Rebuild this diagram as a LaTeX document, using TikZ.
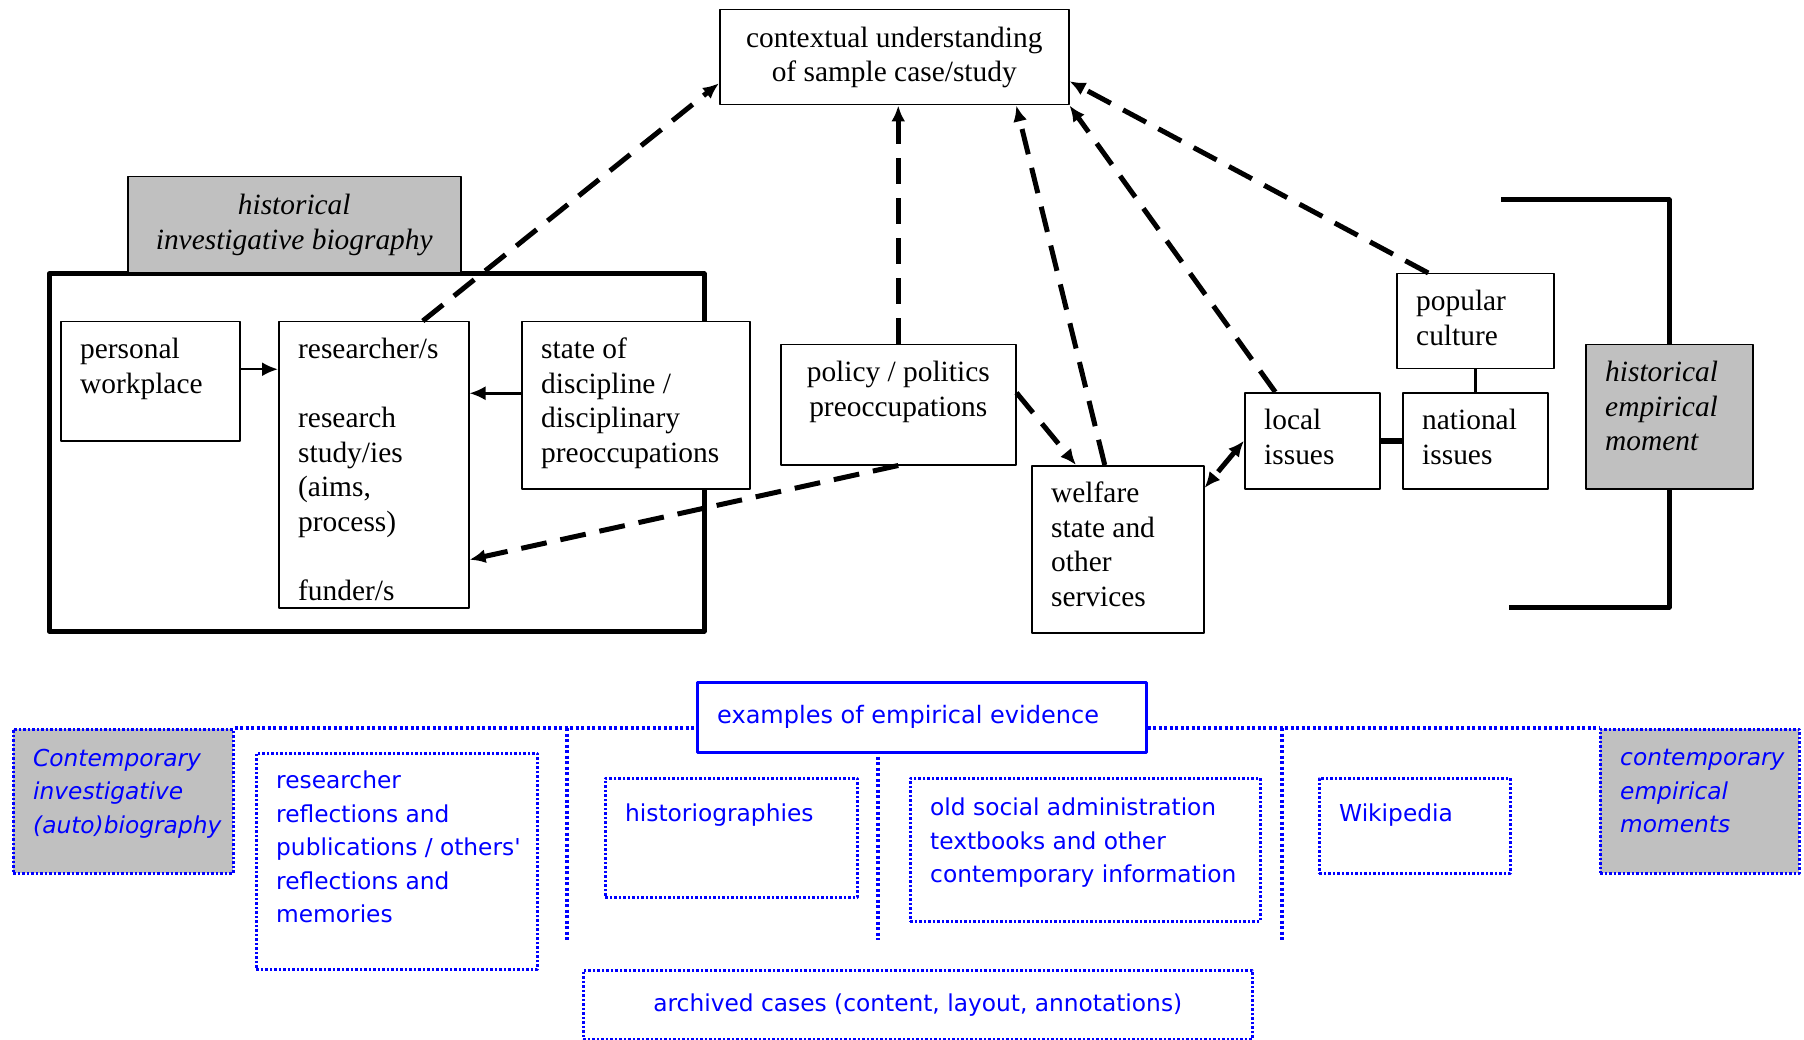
\documentclass[tikz,border=0pt]{standalone}
\usepackage{fontspec}
\setmainfont{Liberation Serif}
\newfontfamily\comicfont{DejaVu Sans}
\usetikzlibrary{arrows.meta}
\usetikzlibrary{positioning}

\newcommand{\tms}{\fontsize{29.4}{34.5}\selectfont}
\newcommand{\cmc}{\comicfont\fontsize{23.3}{33.5}\selectfont}
\definecolor{boxgrey}{RGB}{192,192,192}
\definecolor{evblue}{RGB}{0,0,255}

\tikzset{
  box/.style={draw, line width=1.5pt, fill=white, anchor=north west, inner sep=0pt},
  greybox/.style={box, fill=boxgrey},
  txt/.style={anchor=north west, align=left, inner xsep=20pt, inner ysep=17pt, font=\tms, execute at begin node=\strut},
  dasharrow/.style={->, line width=5pt, dash pattern=on 26pt off 14pt},
  evbox/.style={draw=evblue, line width=2.5pt, fill=white, anchor=north west, inner sep=0pt},
  dotbox/.style={evbox, dash pattern=on 2.5pt off 2pt},
  dotline/.style={draw=evblue, line width=3.5pt, dash pattern=on 3pt off 2.5pt},
  ctxt/.style={anchor=north west, align=left, inner xsep=21pt, inner ysep=21pt, font=\cmc, text=evblue, execute at begin node=\strut},
}

\begin{document}
\begin{tikzpicture}[line join=round,x=1pt,y=-1pt,>={Latex[length=16pt,width=14pt]}]
\useasboundingbox (0,0) rectangle (1804,1040);
% historical side
\draw[line width=5pt] (49,274) rectangle (704,631);
\node[greybox, minimum width=333pt, minimum height=96pt, align=center, font=\tms\itshape] (hib) at (127,176) {historical\\investigative biography};
\node[box, minimum width=349pt, minimum height=95pt, align=center, font=\tms] (cu) at (719,9) {contextual understanding\\of sample case/study};
\node[box, minimum width=179pt, minimum height=119pt, label={[txt]north west:{personal\\workplace}}] (pw) at (60,321) {};
\node[box, minimum width=190pt, minimum height=286pt, label={[txt]north west:{researcher/s\\[34.5pt]research\\study/ies\\(aims,\\process)\\[34.5pt]funder/s}}] (rs) at (278,321) {};
\node[box, minimum width=228pt, minimum height=167pt, label={[txt]north west:{state of\\discipline /\\disciplinary\\preoccupations}}] (sd) at (521,321) {};
\node[box, minimum width=235pt, minimum height=120pt, label={[txt, anchor=north, align=center]north:{policy / politics\\preoccupations}}] (pp) at (780,344) {};
\node[box, minimum width=172pt, minimum height=167pt, label={[txt]north west:{welfare\\state and\\other\\services}}] (ws) at (1031,465) {};
\node[box, minimum width=135pt, minimum height=96pt, label={[txt]north west:{local\\issues}}] (li) at (1244,392) {};
\node[box, minimum width=145pt, minimum height=96pt, label={[txt]north west:{national\\issues}}] (ni) at (1402,392) {};
\node[box, minimum width=157pt, minimum height=95pt, label={[txt]north west:{popular\\culture}}] (pc) at (1396,273) {};
\node[greybox, minimum width=167pt, minimum height=144pt, label={[txt, font=\tms\itshape]north west:{historical\\empirical\\moment}}] (hem) at (1585,344) {};
\coordinate (brt) at (1501,200);
\coordinate (brb) at (1509,607);
\draw[line width=5pt] (brt) -| (hem.north);
\draw[line width=5pt] (hem.south) |- (brb);
\draw[line width=6pt] (li.east) -- (ni.west);
\draw[line width=3.5pt] (pc.south) -- (ni.north);
% arrows
\draw[line width=2.5pt, ->] ([yshift=12pt]pw.east) -- ([yshift=12pt]pw.east -| rs.west);
\draw[line width=2.5pt, ->] ([yshift=12pt]sd.west) -- ([yshift=12pt]sd.west -| rs.east);
\draw[dasharrow] ([xshift=49pt]rs.north) -- ([yshift=-26pt]cu.west);
\draw[dasharrow] (pp.north) -- (pp.north |- cu.south);
\draw[dasharrow] ([xshift=-13pt]ws.north) -- ([xshift=122pt]cu.south);
\draw[dasharrow] ([xshift=-37pt]li.north) -- (cu.south east);
\draw[dasharrow] ([xshift=-47pt]pc.north) -- ([yshift=-24pt]cu.east);
\draw[dasharrow] ([yshift=12pt]pp.east) -- ([xshift=45pt]ws.north west);
\draw[dasharrow] (pp.south) -- ([yshift=-95pt]rs.east);
\draw[dasharrow, <->] (li.west) -- ([yshift=-23pt]ws.north east);
% empirical evidence
\node[dotbox, fill=boxgrey, minimum width=220pt, minimum height=144pt, label={[ctxt, font=\cmc\itshape]north west:{Contemporary\\investigative\\(auto)biography}}] (cib) at (12,728) {};
\node[dotbox, fill=boxgrey, minimum width=199pt, minimum height=144pt, label={[ctxt, font=\cmc\itshape]north west:{contemporary\\empirical\\moments}}] (cem) at (1599,728) {};
\draw[dotline] (cib.north east) -- (cem.north west);
\foreach \x/\y in {567/728, 878/751, 1282/728}
  \draw[dotline] (\x,\y) -- (\x,940);
\node[evbox, minimum width=449pt, minimum height=70pt, label={[ctxt, anchor=west, inner ysep=0pt, font=\comicfont\fontsize{24}{33.5}\selectfont]west:{examples of empirical evidence}}] (ex) at (696,681) {};
\node[dotbox, minimum width=281pt, minimum height=216pt, label={[ctxt, inner ysep=19pt]north west:{researcher\\reflections and\\publications / others'\\reflections and\\memories}}] (rr) at (255,752) {};
\node[dotbox, minimum width=252pt, minimum height=119pt, label={[ctxt]north west:{historiographies}}] (hg) at (604,777) {};
\node[dotbox, minimum width=350pt, minimum height=143pt, label={[ctxt]north west:{old social administration\\textbooks and other\\contemporary information}}] (os) at (909,777) {};
\node[dotbox, minimum width=191pt, minimum height=95pt, label={[ctxt]north west:{Wikipedia}}] (wk) at (1318,777) {};
\node[dotbox, minimum width=669pt, minimum height=69pt, font=\cmc, text=evblue] (ac) at (582,969) {archived cases (content, layout, annotations)};
\end{tikzpicture}
\end{document}
